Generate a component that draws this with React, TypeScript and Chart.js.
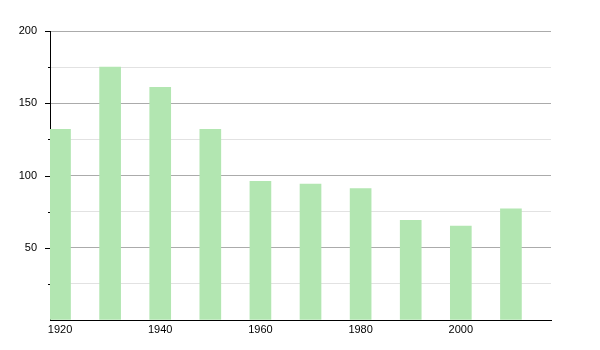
import React, { useEffect, useRef } from "react";
import { Chart, registerables } from "chart.js";

Chart.register(...registerables);

const years = [1920, 1930, 1940, 1950, 1960, 1970, 1980, 1990, 2000, 2010];
const values = [132, 175, 161, 132, 96, 94, 91, 69, 65, 77];
const xTickLabels = [1920, 1940, 1960, 1980, 2000];

const FONT = "'Liberation Sans', Arial, Helvetica, sans-serif";

const yTickMarks = {
  id: "yTickMarks",
  afterDraw(chart: any) {
    const s = chart.scales.y;
    const ctx = chart.ctx;
    ctx.save();
    ctx.strokeStyle = "#000";
    ctx.lineWidth = 1;
    s.ticks.forEach((t: any) => {
      if (t.value === 0) return;
      const y = Math.round(s.getPixelForValue(t.value)) + 0.5;
      const len = t.value % 50 === 0 ? 5 : 2;
      ctx.beginPath();
      ctx.moveTo(s.right - len, y);
      ctx.lineTo(s.right, y);
      ctx.stroke();
    });
    ctx.restore();
  },
};

export default function App() {
  const ref = useRef<HTMLCanvasElement | null>(null);
  useEffect(() => {
    if (!ref.current) return;
    const chart = new Chart(ref.current, {
      type: "bar",
      data: {
        datasets: [
          {
            data: years.map((y, i) => ({ x: y, y: values[i] })),
            backgroundColor: "#b2e6b1",
            borderWidth: 0,
            barThickness: 21,
          },
        ],
      },
      options: {
        animation: false,
        responsive: true,
        maintainAspectRatio: false,
        layout: { padding: { left: 0, top: 31, right: 49, bottom: 0 } },
        plugins: { legend: { display: false }, tooltip: { enabled: false } },
        scales: {
          x: {
            type: "linear",
            min: 1918,
            max: 2018,
            offset: false,
            afterBuildTicks: (scale: any) => {
              scale.ticks = xTickLabels.map((v) => ({ value: v }));
            },
            afterFit: (scale: any) => {
              scale.height = 30;
            },
            grid: { display: false, drawTicks: false },
            border: { display: true, color: "#000", width: 1 },
            ticks: {
              color: "#000",
              font: { family: FONT, size: 11 },
              padding: 3,
              maxRotation: 0,
              autoSkip: false,
              callback: (v: any) => String(v),
            },
          },
          y: {
            min: 0,
            max: 200,
            afterFit: (scale: any) => {
              scale.width = 50;
            },
            grid: {
              drawTicks: false,
              color: (c: any) =>
                c.tick && c.tick.value % 50 === 0 ? "#ababab" : "#e2e2e2",
              lineWidth: 1,
            },
            border: { display: true, color: "#000", width: 1 },
            ticks: {
              stepSize: 25,
              color: "#000",
              padding: 13,
              font: { family: FONT, size: 11 },
              callback: (v: any) =>
                Number(v) % 50 === 0 && Number(v) !== 0 ? String(v) : "",
            },
          },
        },
      },
      plugins: [yTickMarks],
    });
    return () => chart.destroy();
  }, []);
  return (
    <div style={{ position: "fixed", left: 0, top: 0, width: 600, height: 350 }}>
      <canvas ref={ref} />
    </div>
  );
}
